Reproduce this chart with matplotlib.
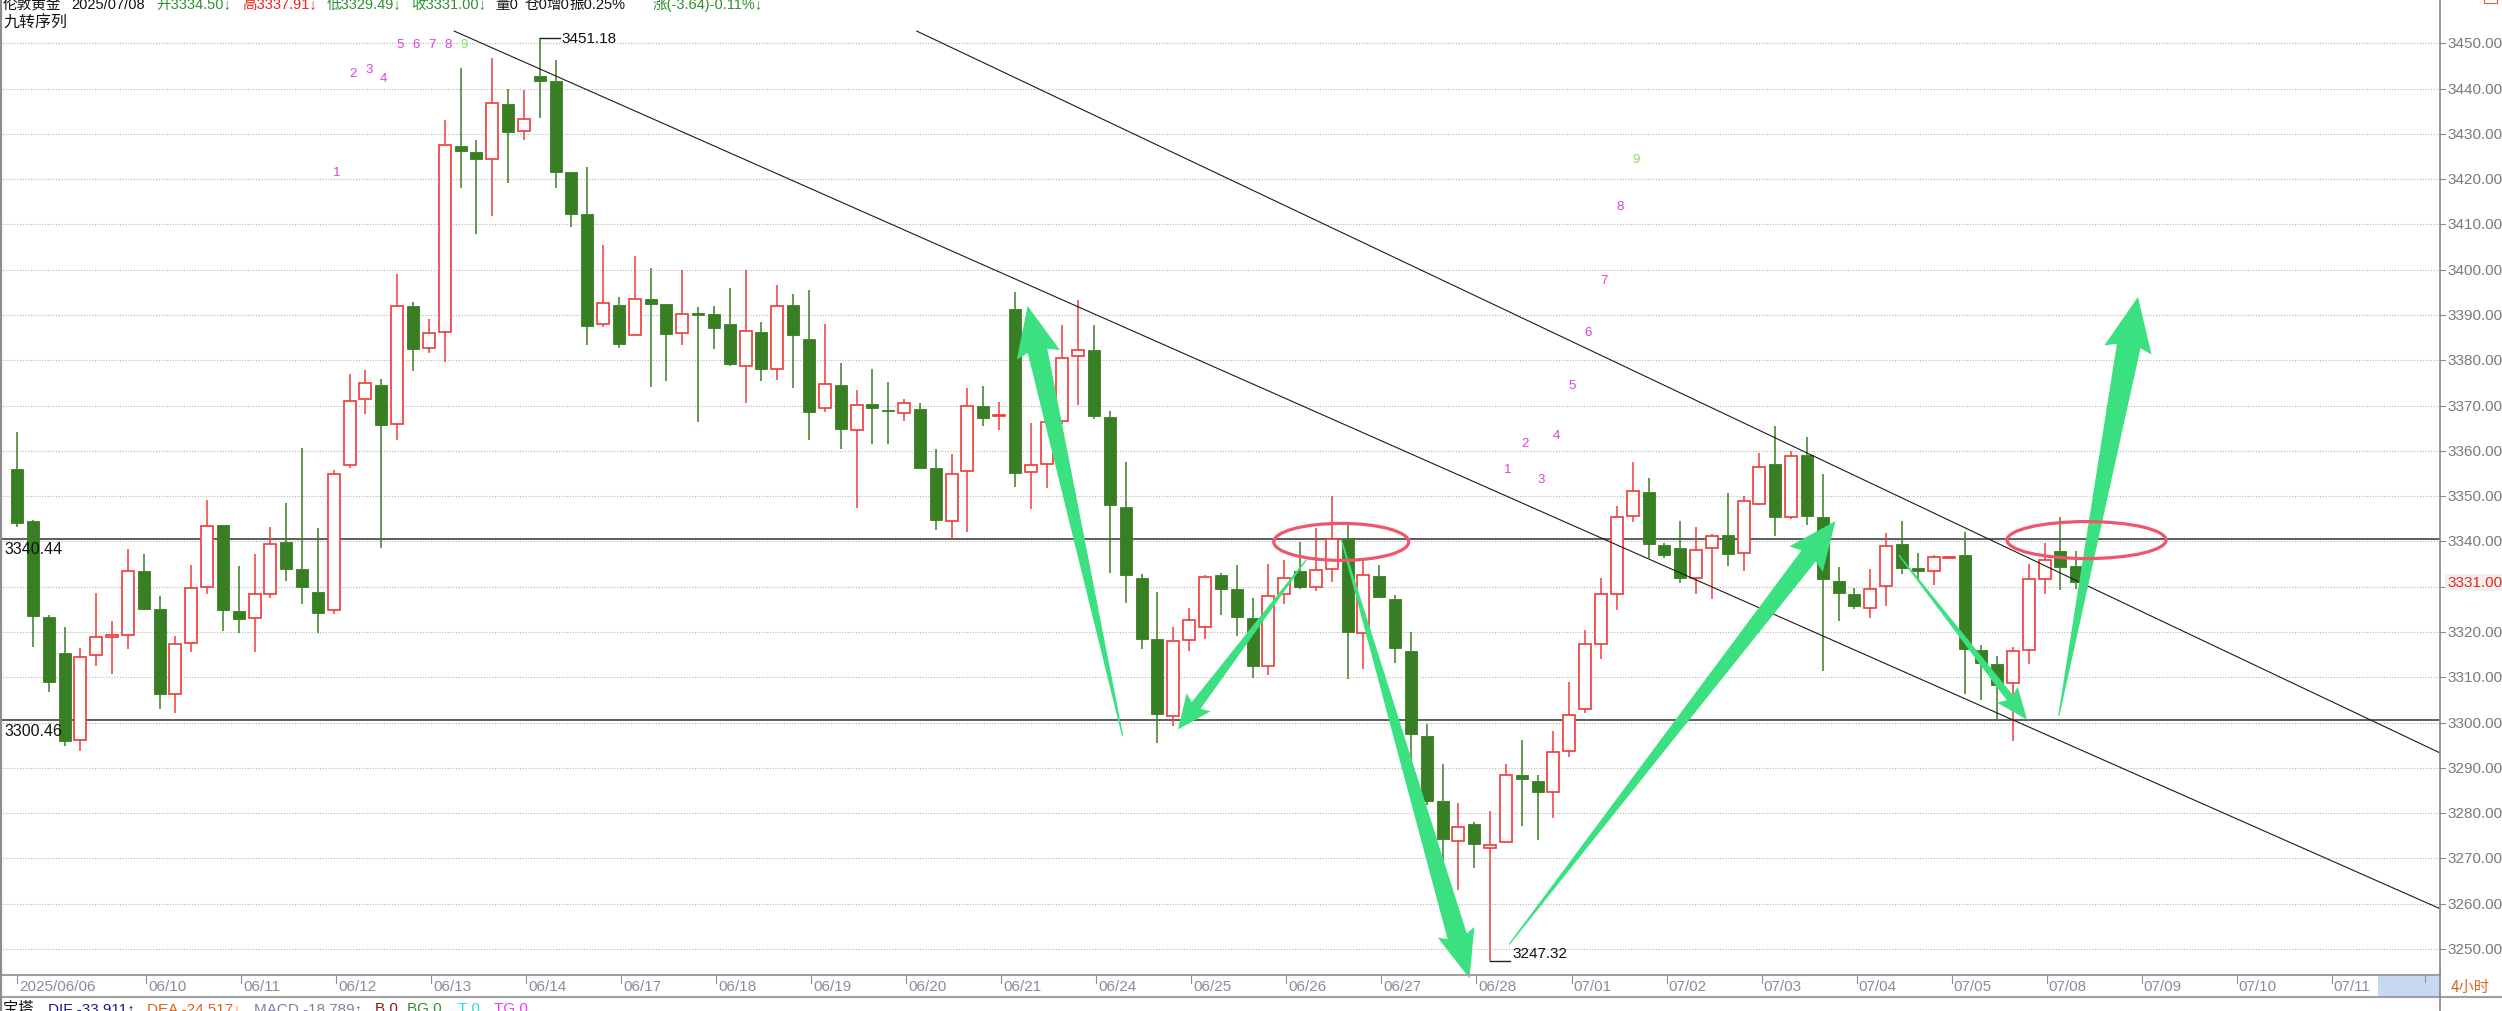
import matplotlib
matplotlib.use('Agg')
import matplotlib.pyplot as plt
from matplotlib.patches import Rectangle, Ellipse, Polygon
from matplotlib.lines import Line2D
import numpy as np

plt.rcParams['font.family'] = ['Liberation Sans', 'Noto Sans CJK SC', 'DejaVu Sans']
CJK = ['Noto Sans CJK SC', 'DejaVu Sans']

# 伦敦黄金 4小时 K线 (2025/06/06 - 2025/07/08)
opens = [3356.1, 3344.5, 3323.4, 3315.4, 3296.2, 3314.9, 3318.8, 3319.3, 3333.5, 3325.1,
         3306.3, 3317.6, 3330.0, 3343.7, 3324.6, 3323.0, 3328.5, 3339.8, 3334.0, 3328.8,
         3324.8, 3356.8, 3371.4, 3374.6, 3365.9, 3392.1, 3382.8, 3386.2, 3427.3, 3426.1,
         3424.5, 3436.5, 3430.7, 3442.8, 3441.6, 3421.6, 3412.4, 3388.0, 3392.3, 3385.5,
         3393.5, 3392.5, 3386.0, 3390.3, 3390.3, 3388.1, 3378.8, 3386.3, 3378.0, 3392.3,
         3384.7, 3369.5, 3374.6, 3364.7, 3370.3, 3369.0, 3368.4, 3369.2, 3356.2, 3344.6,
         3355.5, 3369.9, 3367.6, 3391.4, 3355.3, 3357.1, 3366.7, 3380.9, 3382.3, 3367.5,
         3347.6, 3331.9, 3318.5, 3301.5, 3318.2, 3321.2, 3332.6, 3329.4, 3323.2, 3312.4,
         3328.4, 3333.4, 3330.0, 3334.0, 3340.6, 3319.8, 3332.4, 3327.2, 3315.9, 3297.0,
         3282.7, 3273.9, 3277.6, 3272.4, 3273.6, 3288.4, 3287.2, 3284.6, 3293.8, 3302.9,
         3317.4, 3328.3, 3345.7, 3350.9, 3339.3, 3338.5, 3331.9, 3338.5, 3341.5, 3337.5,
         3348.3, 3357.2, 3345.5, 3359.0, 3345.3, 3331.3, 3328.5, 3325.3, 3330.1, 3339.4,
         3334.1, 3333.5, 3336.3, 3336.9, 3316.1, 3312.9, 3308.7, 3316.1, 3331.8, 3337.8,
         3334.5]
highs = [3364.1, 3344.8, 3323.7, 3321.2, 3316.5, 3328.7, 3322.5, 3338.3, 3337.3, 3327.9,
         3319.2, 3334.9, 3349.2, 3343.7, 3334.6, 3337.3, 3343.2, 3348.5, 3360.6, 3343.0,
         3355.7, 3376.9, 3377.9, 3375.9, 3399.0, 3392.9, 3389.1, 3433.1, 3444.6, 3428.6,
         3446.7, 3439.9, 3439.6, 3451.18, 3446.3, 3421.6, 3422.6, 3405.5, 3393.9, 3403.1,
         3400.4, 3392.5, 3400.0, 3391.8, 3392.1, 3396.0, 3400.0, 3388.4, 3396.6, 3394.6,
         3395.6, 3388.0, 3379.4, 3373.5, 3378.1, 3375.2, 3371.5, 3370.5, 3360.5, 3359.4,
         3373.8, 3374.3, 3370.8, 3395.1, 3366.2, 3368.9, 3387.8, 3393.4, 3387.8, 3368.7,
         3357.6, 3332.9, 3328.8, 3321.0, 3325.3, 3332.6, 3333.1, 3334.9, 3327.4, 3335.1,
         3335.8, 3339.8, 3343.0, 3350.0, 3344.2, 3336.3, 3334.9, 3328.2, 3320.0, 3299.7,
         3290.8, 3282.3, 3278.1, 3280.5, 3290.8, 3296.2, 3288.4, 3298.1, 3308.9, 3320.4,
         3331.9, 3347.8, 3357.5, 3354.0, 3339.7, 3344.6, 3343.2, 3341.7, 3350.8, 3350.1,
         3359.5, 3365.4, 3360.0, 3363.1, 3354.8, 3334.4, 3329.7, 3333.9, 3341.9, 3344.6,
         3337.5, 3337.1, 3336.6, 3342.0, 3317.2, 3314.8, 3316.6, 3335.1, 3339.7, 3345.3,
         3337.91]
lows = [3343.1, 3316.7, 3306.8, 3294.9, 3293.7, 3312.5, 3310.7, 3316.3, 3324.9, 3302.9,
        3302.1, 3315.5, 3328.4, 3320.2, 3319.8, 3315.5, 3327.4, 3331.3, 3326.2, 3319.7,
        3323.9, 3356.2, 3368.1, 3338.6, 3362.5, 3377.6, 3381.7, 3379.7, 3418.0, 3407.8,
        3411.8, 3419.2, 3428.7, 3433.4, 3418.0, 3409.5, 3383.4, 3387.3, 3382.7, 3385.5,
        3374.0, 3375.5, 3383.4, 3366.3, 3382.5, 3378.7, 3370.5, 3375.5, 3375.7, 3373.8,
        3362.5, 3368.5, 3360.4, 3347.4, 3361.6, 3361.6, 3366.5, 3356.1, 3342.6, 3340.3,
        3342.0, 3365.4, 3364.7, 3352.0, 3347.2, 3351.7, 3366.0, 3370.1, 3367.0, 3333.1,
        3326.4, 3316.2, 3295.4, 3299.2, 3315.7, 3318.5, 3323.8, 3319.2, 3309.9, 3310.4,
        3326.1, 3329.6, 3329.1, 3331.1, 3309.6, 3311.8, 3327.6, 3313.2, 3289.3, 3281.7,
        3267.5, 3263.0, 3267.8, 3247.32, 3273.6, 3277.1, 3274.0, 3279.0, 3292.3, 3302.1,
        3314.1, 3324.8, 3344.3, 3336.4, 3336.4, 3330.8, 3328.5, 3327.2, 3334.6, 3333.5,
        3348.1, 3341.3, 3345.0, 3343.6, 3311.3, 3322.4, 3325.0, 3323.0, 3325.8, 3332.9,
        3331.6, 3330.4, 3336.3, 3306.4, 3304.9, 3300.4, 3296.0, 3313.0, 3328.3, 3329.2,
        3329.49]
closes = [3344.1, 3323.5, 3309.0, 3295.9, 3314.4, 3318.8, 3319.3, 3333.5, 3325.1, 3306.3,
          3317.4, 3329.8, 3343.4, 3324.9, 3322.9, 3328.5, 3339.4, 3333.9, 3329.9, 3324.3,
          3354.8, 3371.1, 3374.9, 3365.7, 3392.0, 3382.6, 3386.0, 3427.6, 3426.3, 3424.5,
          3436.8, 3430.5, 3433.3, 3441.6, 3421.6, 3412.2, 3387.5, 3392.7, 3383.7, 3393.5,
          3392.4, 3385.7, 3390.3, 3390.1, 3387.2, 3379.2, 3386.5, 3378.0, 3392.1, 3385.5,
          3368.5, 3374.8, 3364.9, 3370.2, 3369.4, 3368.7, 3370.5, 3356.3, 3344.8, 3354.9,
          3369.8, 3367.3, 3367.8, 3355.1, 3356.8, 3366.4, 3380.4, 3382.3, 3367.6, 3348.1,
          3332.5, 3318.5, 3302.0, 3318.0, 3322.6, 3332.1, 3329.5, 3323.3, 3312.6, 3327.9,
          3331.9, 3330.0, 3333.7, 3340.5, 3320.0, 3332.6, 3327.8, 3316.4, 3297.4, 3282.7,
          3274.3, 3276.9, 3273.2, 3273.0, 3288.4, 3287.6, 3284.6, 3293.5, 3301.6, 3317.3,
          3328.3, 3345.3, 3351.2, 3339.5, 3337.1, 3331.9, 3338.2, 3341.1, 3337.3, 3348.9,
          3356.4, 3345.5, 3358.9, 3345.6, 3331.8, 3328.7, 3325.8, 3329.4, 3339.0, 3334.2,
          3333.5, 3336.5, 3336.5, 3316.3, 3313.1, 3308.4, 3315.8, 3331.6, 3335.9, 3334.4,
          3331.0]

date_labels = ['2025/06/06', '06/10', '06/11', '06/12', '06/13', '06/14', '06/17', '06/18',
               '06/19', '06/20', '06/21', '06/24', '06/25', '06/26', '06/27', '06/28',
               '07/01', '07/02', '07/03', '07/04', '07/05', '07/08', '07/09', '07/10', '07/11']
price_ticks = list(range(3250, 3451, 10))
levels = [3340.44, 3300.46]
last_price = 3331.00

# 九转序列 marks (bar position, price)
td1_x = [20.2, 21.2, 22.2, 23.1, 24.2, 25.2, 26.2, 27.2, 28.2]
td1_y = [3421.6, 3443.4, 3444.3, 3442.3, 3449.8, 3449.8, 3449.8, 3449.8, 3449.8]
td2_x = [94.1, 95.2, 96.2, 97.2, 98.2, 99.2, 100.2, 101.2, 102.2]
td2_y = [3355.9, 3361.7, 3353.7, 3363.4, 3374.6, 3386.3, 3397.8, 3414.0, 3424.5]

# hand drawn lines, arrows and circles (bar position, price)
trend_upper = [(56.8, 3452.7), (152.97, 3293.3)]
trend_lower = [(27.6, 3452.7), (152.97, 3258.9)]
arrow_tail = [(69.8, 3297.0), (81.4, 3336.0), (83.6, 3340.5), (94.2, 3251.0), (118.8, 3337.0), (128.9, 3301.5)]
arrow_tip = [(63.8, 3392.0), (73.3, 3298.5), (91.7, 3243.5), (114.8, 3344.5), (126.9, 3300.6), (133.9, 3394.0)]
circle_center = [(83.6, 3339.9), (130.65, 3340.3)]

W, H = 2502, 1012
X0, DX = 17.0, 15.84          # pixel of bar 0, pixels per bar
Y0, PY = 44.3, 4.5285         # pixel of 3450, pixels per point
AX_R, AX_B = 2440, 976

RED = '#f03a3a'
GREEN = '#387e23'
ARROW = '#3be081'
RING = '#f0566b'
GRAY = '#8c8c8c'

fig = plt.figure(figsize=(W / 100, H / 100), dpi=100)
fig.patch.set_facecolor('white')
ax = fig.add_axes([0, 1 - AX_B / H, AX_R / W, AX_B / H])
ax.set_xlim((0 - X0) / DX, (AX_R - X0) / DX)
ax.set_ylim(3450 - (AX_B - Y0) / PY, 3450 + Y0 / PY)
ax.axis('off')

# grid
for p in price_ticks:
    ax.axhline(p, color='#b4b4b4', lw=0.8, ls=(0, (1, 1.5)), zorder=0)

# candles
bw = 12 / DX
for i in range(len(opens)):
    o, h, l, c = opens[i], highs[i], lows[i], closes[i]
    top, bot = max(o, c), min(o, c)
    col = RED if c >= o else GREEN
    if h > top:
        ax.plot([i, i], [top, h], color=col, lw=1.1, zorder=2, solid_capstyle='butt')
    if l < bot:
        ax.plot([i, i], [l, bot], color=col, lw=1.1, zorder=2, solid_capstyle='butt')
    hgt = max(top - bot, 0.3)
    if c >= o:
        ax.add_patch(Rectangle((i - bw / 2, bot), bw, hgt, facecolor='white',
                               edgecolor=col, lw=1.2, zorder=3))
    else:
        ax.add_patch(Rectangle((i - bw / 2, bot), bw, hgt, facecolor=col,
                               edgecolor=col, lw=0.6, zorder=3))

# horizontal levels
ytr = ax.get_yaxis_transform()
for lv in levels:
    ax.axhline(lv, color='#505050', lw=1.3, zorder=1)
    ax.text(4 / AX_R, lv - 0.45, '%.2f' % lv, transform=ytr, ha='left', va='top',
            fontsize=11.5, color='#111111')

# trend lines
for ln in (trend_upper, trend_lower):
    ax.plot([ln[0][0], ln[1][0]], [ln[0][1], ln[1][1]], color='#1a1a1a', lw=0.8, zorder=4)

# high / low markers
hi_i = int(np.argmax(highs))
lo_i = int(np.argmin(lows))
ax.plot([hi_i, hi_i + 20 / DX], [highs[hi_i]] * 2, color='#222222', lw=1.0, zorder=4)
ax.text(hi_i + 22 / DX, highs[hi_i], '%.2f' % highs[hi_i], ha='left', va='center',
        fontsize=11, color='#111111')
ax.plot([lo_i, lo_i + 20 / DX], [lows[lo_i]] * 2, color='#222222', lw=1.0, zorder=4)
ax.text(lo_i + 22 / DX, lows[lo_i] + 0.2, '%.2f' % lows[lo_i], ha='left', va='bottom',
        fontsize=11, color='#111111')

# 九转 numbers
for k in range(9):
    c1 = '#86e05a' if k == 8 else '#e03ee0'
    ax.text(td1_x[k], td1_y[k], str(k + 1), ha='center', va='center', fontsize=9.5, color=c1)
    ax.text(td2_x[k], td2_y[k], str(k + 1), ha='center', va='center', fontsize=9.5, color=c1)

# circles
ax.add_patch(Ellipse(circle_center[0], 135 / DX, 37 / PY, facecolor='none',
                     edgecolor=RING, lw=2.3, zorder=7))
ax.add_patch(Ellipse(circle_center[1], 159 / DX, 37 / PY, facecolor='none',
                     edgecolor=RING, lw=2.3, zorder=7))


def draw_arrow(tail, tip, w_shaft, w_head, l_head):
    t = ax.transData.transform(tail)
    p = ax.transData.transform(tip)
    d = p - t
    u = d / np.hypot(d[0], d[1])
    n = np.array([-u[1], u[0]])
    b = p - u * l_head
    pts = [t + n * 0.6, b + n * w_shaft / 2, b + n * w_head / 2 - u * 4, p,
           b - n * w_head / 2 - u * 4, b - n * w_shaft / 2, t - n * 0.6]
    pts = ax.transData.inverted().transform(np.array(pts))
    ax.add_patch(Polygon(pts, closed=True, facecolor=ARROW, edgecolor='none',
                         clip_on=False, zorder=6))


arrow_size = [(20, 44, 46), (11, 30, 30), (20, 38, 44), (18, 42, 44), (8, 26, 28), (24, 48, 50)]
for k in range(len(arrow_tail)):
    draw_arrow(arrow_tail[k], arrow_tip[k], *arrow_size[k])

# right price axis
for p in price_ticks:
    ax.plot([1, 1 + 5 / AX_R], [p, p], transform=ytr, color=GRAY, lw=0.8, clip_on=False)
    if p == 3330:
        continue
    ax.text(1 + 7 / AX_R, p, '%.2f' % p, transform=ytr, ha='left', va='center',
            fontsize=11, color='#7a7a7a')
ax.text(1 + 7 / AX_R, last_price, '%.2f' % last_price, transform=ytr, ha='left', va='center',
        fontsize=11, color='#ee2222',
        bbox=dict(boxstyle='square,pad=0.1', facecolor='#eef1ee', edgecolor='none'))

# date strip
axd = fig.add_axes([0, 1 - 997 / H, AX_R / W, 21 / H])
axd.set_xlim(ax.get_xlim())
axd.set_ylim(0, 1)
axd.axis('off')
tick_pos = [0.03] + [8.14 + 6 * k for k in range(len(date_labels) - 1)]
for pos, lab in zip(tick_pos, date_labels):
    axd.plot([pos, pos], [0.62, 1.0], color='#909090', lw=0.8)
    axd.text(pos + 2 / DX, 0.48, lab, ha='left', va='center', fontsize=11, color='#8a8a9c')
fig.patches.append(Rectangle((2378 / W, 1 - 997 / H), 62 / W, 20 / H, transform=fig.transFigure,
                             facecolor='#c6d9f1', edgecolor='none'))
fig.add_artist(Line2D([2425 / W] * 2, [1 - 983 / H, 1 - 977 / H], color='#909090', lw=0.8))
fig.text(2451 / W, 1 - 987 / H, '4小时', ha='left', va='center', fontsize=11,
         color='#e2652a', family=CJK)

# frame lines
fig.add_artist(Line2D([0, AX_R / W], [1 - 976 / H] * 2, color='#a0a0a0', lw=1.5))
fig.add_artist(Line2D([0, 1], [1 - 997.5 / H] * 2, color='#a0a0a0', lw=1.5))
fig.add_artist(Line2D([AX_R / W] * 2, [0, 1], color=GRAY, lw=1.3))
fig.add_artist(Line2D([1 / W] * 2, [0, 1], color=GRAY, lw=1.6))
fig.patches.append(Rectangle((2484 / W, 1 - 4 / H), 13 / W, 5 / H, transform=fig.transFigure,
                             facecolor='none', edgecolor='#e06030', lw=0.8))

# header (cut at the top edge like the terminal screenshot)
header = [(3, '伦敦黄金', '#111111'), (71, '2025/07/08', '#111111'),
          (156, '开3334.50↓', '#2f8f2f'), (242, '高3337.91↓', '#ee2222'),
          (327, '低3329.49↓', '#2f8f2f'), (411, '收3331.00↓', '#2f8f2f'),
          (495, '量0', '#111111'), (525, '仓0', '#111111'), (546, '增0', '#111111'),
          (569, '振0.25%', '#111111'), (653, '涨(-3.64)-0.11%↓', '#2f8f2f')]
for x, s, col in header:
    fig.text(x / W, 1 - 9 / H, s, ha='left', va='baseline', fontsize=10.5, color=col)
fig.text(3 / W, 1 - 23 / H, '九转序列', ha='left', va='center', fontsize=11.5,
         color='#111111', family=CJK)

# MACD line at the bottom
macd = [(3, '宝塔', '#111111'), (48, 'DIF -33.911↑', '#1a1a8c'), (147, 'DEA -24.517↓', '#e06020'),
        (254, 'MACD -18.789↑', '#8080a0'), (375, 'B 0', '#8c1a1a'), (407, 'BG 0', '#2f8f2f'),
        (458, 'T 0', '#30e0e0'), (494, 'TG 0', '#ff30ff')]
for x, s, col in macd:
    fig.text(x / W, 1 - 1002 / H, s, ha='left', va='top', fontsize=11, color=col)

fig.savefig('out.png', dpi=100, facecolor='white')
